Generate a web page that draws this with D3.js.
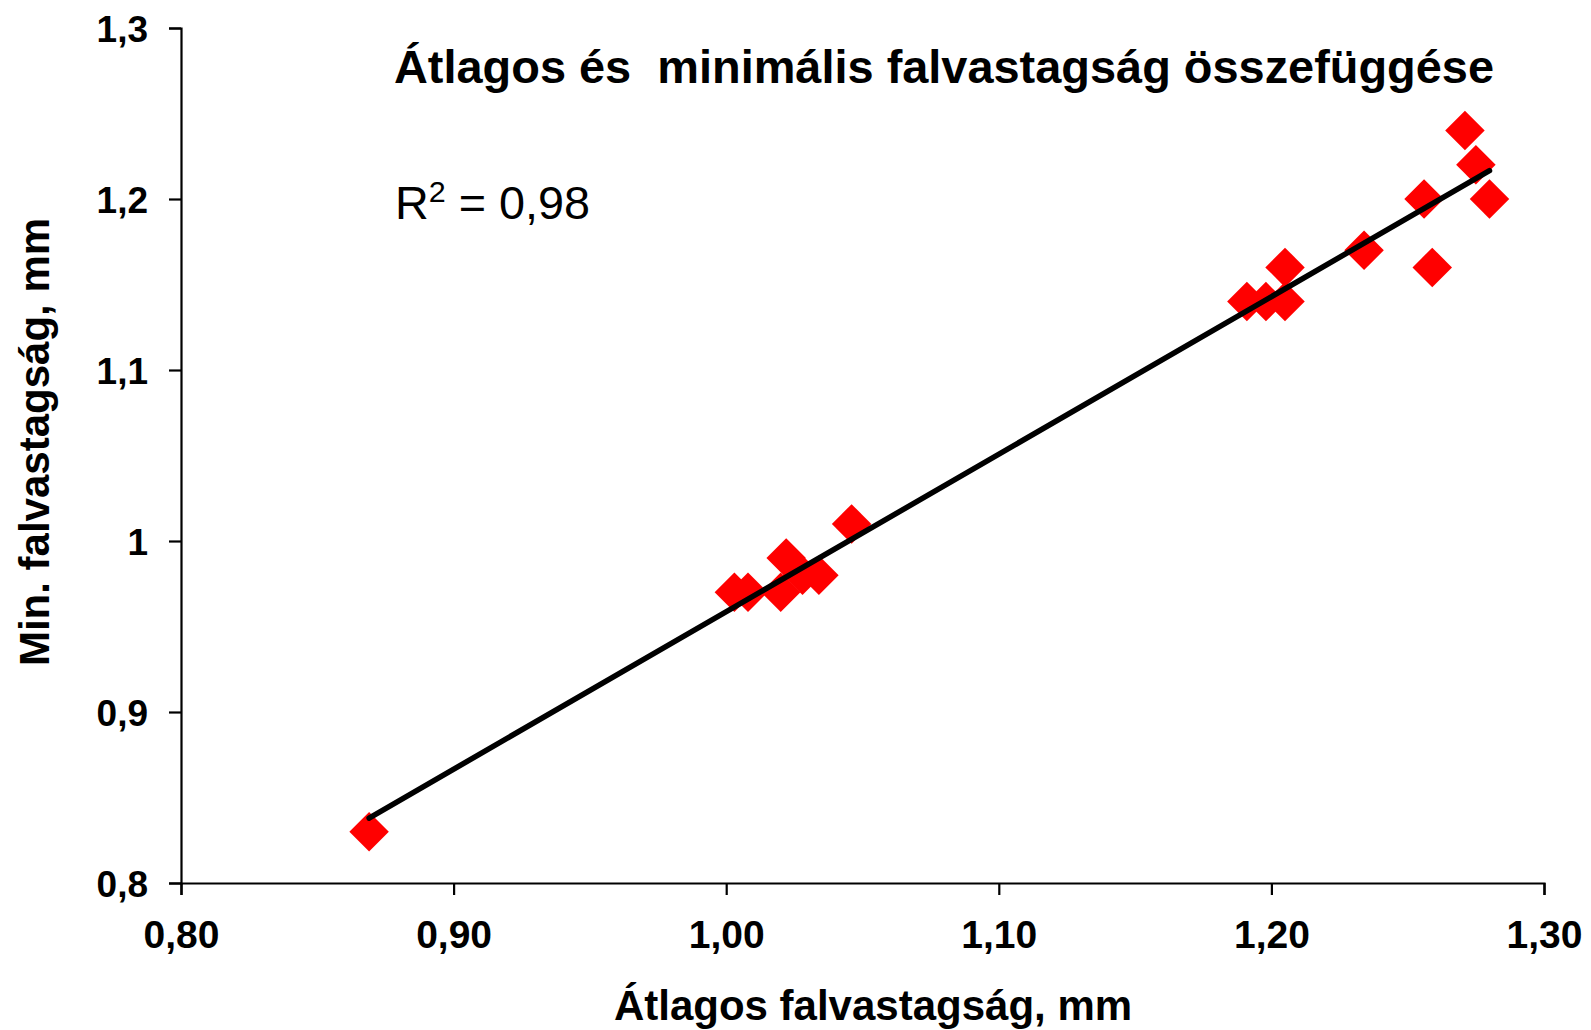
<!DOCTYPE html>
<html><head><meta charset="utf-8">
<script src="https://cdn.jsdelivr.net/npm/d3@7"></script>
<style>
html,body{margin:0;padding:0;background:#fff;}
svg{display:block;font-family:"Liberation Sans",Arial,sans-serif;}
</style></head>
<body><svg id="c" width="1591" height="1030"></svg>
<script>
const avgThickness = [0.869, 1.003, 1.008, 1.020, 1.022, 1.028, 1.034, 1.046, 1.191, 1.198, 1.205, 1.205, 1.234, 1.256, 1.259, 1.271, 1.275, 1.280];
const minThickness = [0.83, 0.97, 0.97, 0.97, 0.99, 0.98, 0.98, 1.01, 1.14, 1.14, 1.14, 1.16, 1.17, 1.20, 1.16, 1.24, 1.22, 1.20];
const xTicks = [0.80, 0.90, 1.00, 1.10, 1.20, 1.30];
const yTicks = [0.8, 0.9, 1.0, 1.1, 1.2, 1.3];
const titleText = "Átlagos és  minimális falvastagság összefüggése";
const xTitle = "Átlagos falvastagság, mm";
const yTitle = "Min. falvastagság, mm";
const r2Text = "0,98";

const svg = d3.select("#c");
const x = d3.scaleLinear().domain([0.8, 1.3]).range([181, 1544]);
const y = d3.scaleLinear().domain([0.8, 1.3]).range([883, 28]);

const fmtX = d => d3.format(".2f")(d).replace(".", ",");
const fmtY = d => (d === 1 ? "1" : d3.format(".1f")(d).replace(".", ","));

const xAxis = svg.append("g").attr("transform", "translate(0,883)")
  .call(d3.axisBottom(x).tickValues(xTicks).tickFormat(fmtX).tickSize(12).tickSizeOuter(12));
xAxis.select(".domain").attr("stroke", "#000").attr("stroke-width", 2.2);
xAxis.selectAll(".tick line").attr("stroke", "#000").attr("stroke-width", 2.2);
xAxis.selectAll(".tick text").attr("font-size", 39).attr("font-weight", "bold").attr("fill", "#000")
  .attr("y", 65).attr("dy", 0);

const yAxis = svg.append("g").attr("transform", "translate(181,0)")
  .call(d3.axisLeft(y).tickValues(yTicks).tickFormat(fmtY).tickSize(12).tickSizeOuter(12));
yAxis.select(".domain").attr("stroke", "#000").attr("stroke-width", 2.2);
yAxis.selectAll(".tick text").attr("font-size", 37).attr("font-weight", "bold").attr("fill", "#000")
  .attr("x", -33).attr("dy", 0).attr("y", 13);
yAxis.selectAll(".tick line").attr("stroke", "#000").attr("stroke-width", 2.2);

// points
const pts = avgThickness.map((v, i) => ({x: v, y: minThickness[i]}));
const sym = d3.symbol().type(d3.symbolSquare).size(780);
svg.append("g").selectAll("path").data(pts).join("path")
  .attr("d", sym)
  .attr("transform", d => `translate(${x(d.x)},${y(d.y)}) rotate(45)`)
  .attr("fill", "#ff0000");

// linear trend
const mx = d3.mean(pts, d => d.x), my = d3.mean(pts, d => d.y);
const slope = d3.sum(pts, d => (d.x - mx) * (d.y - my)) / d3.sum(pts, d => (d.x - mx) ** 2);
const icpt = my - slope * mx;
const [x0, x1] = d3.extent(avgThickness);
svg.append("line")
  .attr("x1", x(x0)).attr("y1", y(icpt + slope * x0))
  .attr("x2", x(x1)).attr("y2", y(icpt + slope * x1))
  .attr("stroke", "#000").attr("stroke-width", 5.5).attr("stroke-linecap", "round");

// title
svg.append("text").attr("x", 394).attr("y", 83)
  .attr("font-size", 47).attr("font-weight", "bold").attr("fill", "#000")
  .attr("textLength", 1100).attr("lengthAdjust", "spacingAndGlyphs")
  .style("white-space", "pre").attr("xml:space", "preserve")
  .text(titleText);

// R2
const r2 = svg.append("text").attr("x", 395).attr("y", 219)
  .attr("font-size", 46).attr("fill", "#000")
  .attr("textLength", 195).attr("lengthAdjust", "spacingAndGlyphs");
r2.append("tspan").text("R");
r2.append("tspan").attr("font-size", 30).attr("dy", -17).text("2");
r2.append("tspan").attr("dy", 17).text(" = " + r2Text);

// axis titles
svg.append("text").attr("x", 873).attr("y", 1020).attr("text-anchor", "middle")
  .attr("font-size", 42).attr("font-weight", "bold").attr("fill", "#000").text(xTitle);
svg.append("text").attr("transform", "translate(49,442) rotate(-90)").attr("text-anchor", "middle")
  .attr("font-size", 42).attr("font-weight", "bold").attr("fill", "#000").text(yTitle);
</script></body></html>
